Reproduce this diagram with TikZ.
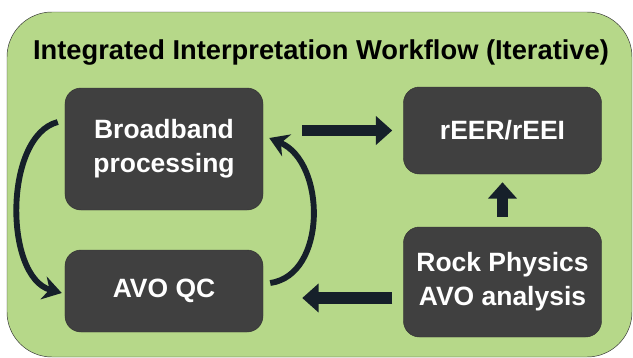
\documentclass[tikz,border=0pt]{standalone}
\usepackage{fontspec}
\setmainfont{Liberation Sans}
\usepackage{tikz}
\usetikzlibrary{%
   arrows.meta,%
   calc}
\definecolor{panelgreen}{RGB}{182,216,137}
\definecolor{boxgray}{RGB}{64,64,64}
\definecolor{arrowink}{RGB}{22,32,42}

\begin{document}
\begin{tikzpicture}
[x=0.03cm, y=-0.03cm,
 typeS/.style={rectangle,draw=black!80,fill=boxgray,text=white,rounded corners=0.48cm,inner sep=0pt,minimum width=5.94cm,align=center,font=\fontsize{22.6}{29}\selectfont\bfseries},
 typeT/.style={inner sep=0pt,font=\fontsize{23.3}{28}\selectfont\bfseries},
 block/.style={draw=arrowink,line width=10pt,-{Triangle[width=24pt,length=14pt]}},
 loop/.style={draw=arrowink,line width=5pt,-{Stealth[width=20pt,length=16pt]}}]
\useasboundingbox (0,0) rectangle (633,358);
\path[draw=black!80,fill=panelgreen,rounded corners=1.35cm] (7,12) rectangle (632,357);
\node[typeT]                          (T)  at (321,52)    {Integrated Interpretation Workflow (Iterative)};
\node[typeS,minimum height=3.66cm]    (BB) at (164,149)   {Broadband\\processing};
\node[typeS,minimum height=2.46cm]    (QC) at (164,291)   {AVO QC};
\node[typeS,minimum height=2.61cm]    (RE) at (502.5,130.5) {rEER/rEEI};
\node[typeS,minimum height=3.3cm]     (RP) at (502.5,282) {Rock Physics\\AVO analysis};
\draw[block] ($(BB.east |- RE.west)+(39,0)$) -- ($(RE.west)+(-11,0)$);
\draw[block] ($(RP.west |- QC.east)+(-11,7)$) -- ($(QC.east)+(39,7)$);
\draw[block] ($(RP.north)+(0,-10)$) -- ($(RE.south)+(0,8)$);
\draw[loop]  ($(BB.west)+(-7,-27)$) .. controls +(-54,14) and +(-58,-16) .. ($(QC.west)+(-3,2)$);
\draw[loop]  ($(QC.east)+(7,-8)$) .. controls +(57,-8) and +(57,24) .. ($(BB.east)+(6,-11)$);
\end{tikzpicture}
\end{document}
